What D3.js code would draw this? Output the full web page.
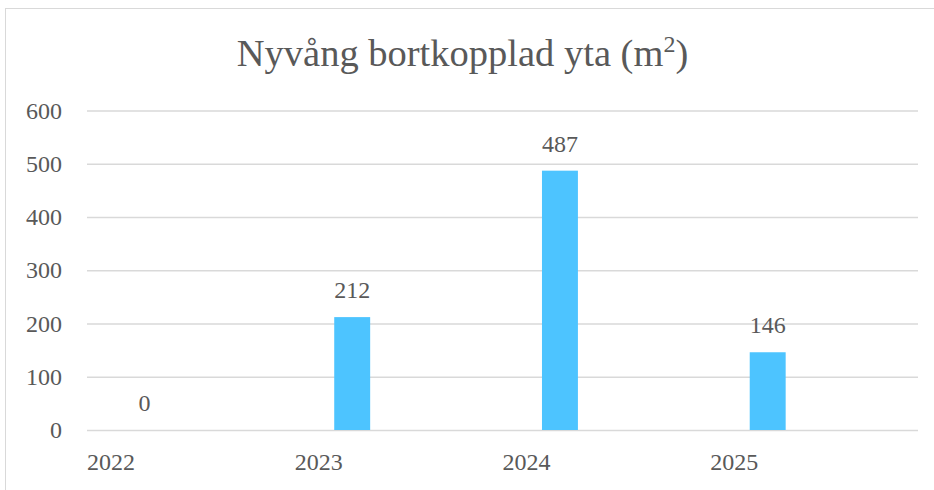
<!DOCTYPE html>
<html>
<head>
<meta charset="utf-8">
<script src="https://cdn.jsdelivr.net/npm/d3@7"></script>
<style>
  html, body { margin: 0; padding: 0; background: #fff; }
  svg { display: block; }
  svg text { font-family: "Liberation Serif", serif !important; fill: #595959; }
</style>
</head>
<body>
<svg id="chart" width="934" height="490"></svg>
<script>
const categories = ["2022", "2023", "2024", "2025"];
const values = [0, 212, 487, 146];
const yTicks = [0, 100, 200, 300, 400, 500, 600];
const titleText = "Nyvång bortkopplad yta (m";
const titleSup = "2";

const FONT = "'Liberation Serif', serif";
const svg = d3.select("#chart");
const plot = { left: 87, right: 918, top: 110.5, bottom: 430 };

// outer chart border
svg.append("rect")
  .attr("x", 5.5).attr("y", 8.5)
  .attr("width", 960).attr("height", 520)
  .attr("fill", "none").attr("stroke", "#d9d9d9").attr("stroke-width", 1);

const x = d3.scaleBand().domain(categories).range([plot.left, plot.right]).padding(0);
const y = d3.scaleLinear().domain([0, 600]).range([plot.bottom, plot.top]);

// gridlines
const grid = svg.append("g").attr("transform", `translate(${plot.left},0)`)
  .call(d3.axisLeft(y).tickValues(yTicks).tickSize(-(plot.right - plot.left)).tickFormat(""));
grid.select(".domain").remove();
grid.selectAll("line").attr("stroke", "#d9d9d9").attr("stroke-width", 1.5);

// y tick labels
const yAxis = svg.append("g").attr("transform", `translate(62,0)`)
  .call(d3.axisLeft(y).tickValues(yTicks).tickSize(0).tickPadding(0).tickFormat(d3.format("d")));
yAxis.attr("font-family", FONT).attr("font-size", 24);
yAxis.select(".domain").remove();
yAxis.selectAll("text")
  .attr("font-family", FONT).attr("font-size", 24).attr("fill", "#595959")
  .attr("dy", "0.32em").attr("text-anchor", "end");

// x labels (left-aligned at category start)
const xAxis = svg.append("g").attr("transform", `translate(0,${plot.bottom})`)
  .call(d3.axisBottom(x).tickSize(0).tickPadding(0));
xAxis.attr("font-family", FONT).attr("font-size", 24);
xAxis.select(".domain").remove();
xAxis.selectAll(".tick").attr("transform", d => `translate(${x(d)},0)`);
xAxis.selectAll("text")
  .attr("font-family", FONT).attr("font-size", 24).attr("fill", "#595959")
  .attr("text-anchor", "start").attr("y", 40).attr("dy", 0);

// bars
const barOffset = x.bandwidth() * 0.19;
const barWidth = x.bandwidth() * 0.173;
const rows = categories.map((c, i) => ({ c, v: values[i] }));
svg.append("g").selectAll("rect")
  .data(rows)
  .join("rect")
  .attr("x", d => x(d.c) + barOffset)
  .attr("y", d => y(d.v))
  .attr("width", barWidth)
  .attr("height", d => y(0) - y(d.v))
  .attr("fill", "#4dc4ff");

// data labels
svg.append("g").selectAll("text")
  .data(rows)
  .join("text")
  .attr("x", d => x(d.c) + barOffset + barWidth / 2)
  .attr("y", d => y(d.v) - 19)
  .attr("text-anchor", "middle")
  .attr("font-family", FONT)
  .attr("font-size", 24)
  .text(d => d.v);

// title
const t = svg.append("text")
  .attr("x", 462.5).attr("y", 66)
  .attr("text-anchor", "middle")
  .attr("font-family", FONT)
  .attr("font-size", 38.5);
t.append("tspan").text(titleText);
t.append("tspan").attr("font-size", 24).attr("dy", -14).text(titleSup);
t.append("tspan").attr("dy", 14).text(")");
</script>
</body>
</html>
